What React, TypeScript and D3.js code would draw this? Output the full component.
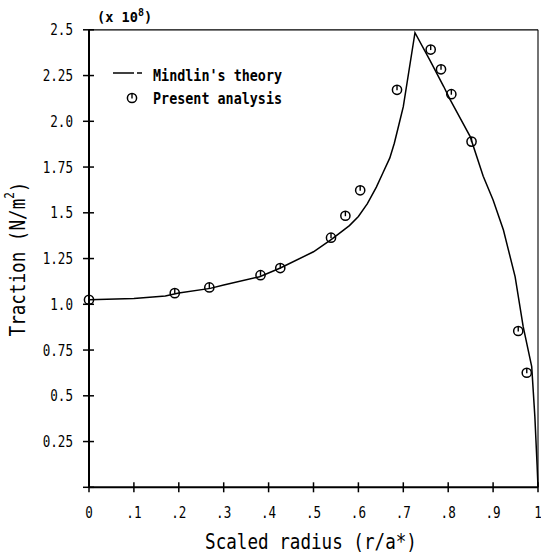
import React from "react";
import * as d3 from "d3";

// Mindlin's theory curve: scaled radius vs traction (x 10^8 N/m^2)
const theoryR = [0, 0.1, 0.17, 0.2, 0.27, 0.3, 0.38, 0.425, 0.5, 0.54, 0.58, 0.6, 0.62, 0.64, 0.655, 0.67, 0.68, 0.69, 0.7, 0.726, 0.76, 0.79, 0.804, 0.849, 0.878, 0.9, 0.923, 0.949, 0.967, 0.986, 0.993, 0.998, 1.0];
const theoryT = [1.025, 1.032, 1.045, 1.062, 1.087, 1.105, 1.151, 1.197, 1.287, 1.355, 1.43, 1.48, 1.55, 1.64, 1.72, 1.8, 1.88, 1.98, 2.08, 2.484, 2.33, 2.19, 2.12, 1.916, 1.7, 1.57, 1.406, 1.151, 0.878, 0.659, 0.386, 0.12, 0.0];

// Present analysis results
const analysisR = [0, 0.191, 0.268, 0.382, 0.426, 0.539, 0.571, 0.604, 0.686, 0.761, 0.784, 0.807, 0.852, 0.956, 0.975];
const analysisT = [1.025, 1.061, 1.092, 1.159, 1.198, 1.364, 1.484, 1.623, 2.172, 2.392, 2.284, 2.148, 1.889, 0.854, 0.626];

const yTicks = [0, 0.25, 0.5, 0.75, 1.0, 1.25, 1.5, 1.75, 2.0, 2.25, 2.5];
const yTickLabels = ["", "0.25", "0.5", "0.75", "1.0", "1.25", "1.5", "1.75", "2.0", "2.25", "2.5"];
const xTicks = [0, 0.1, 0.2, 0.3, 0.4, 0.5, 0.6, 0.7, 0.8, 0.9, 1.0];
const xTickLabels = ["0", ".1", ".2", ".3", ".4", ".5", ".6", ".7", ".8", ".9", "1"];

const FONT = "'DejaVu Sans Mono', monospace";

function Marker({ cx, cy }: { cx: number; cy: number }) {
  const r = 4.6;
  return (
    <g>
      <circle cx={cx} cy={cy} r={r} fill="none" stroke="#000" strokeWidth={1.5} />
      <line x1={cx} y1={cy - r} x2={cx} y2={cy + 0.5} stroke="#000" strokeWidth={1.4} />
    </g>
  );
}

export default function App() {
  const x = d3.scaleLinear().domain([0, 1]).range([89, 538]);
  const y = d3.scaleLinear().domain([0, 2.5]).range([487.3, 29.8]);

  const line = d3
    .line<number>()
    .x((_, i) => x(theoryR[i]))
    .y((d) => y(d))
    .curve(d3.curveLinear);

  const left = x(0);
  const right = x(1);
  const top = y(2.5);
  const bottom = y(0);

  return (
    <svg
      width={541}
      height={556}
      style={{ position: "absolute", left: 0, top: 0, background: "#fff" }}
      fontFamily={FONT}
    >
      <rect width={541} height={556} fill="#fff" />

      {/* frame */}
      <line x1={left} y1={top} x2={right} y2={top} stroke="#000" strokeWidth={1.3} />
      <line x1={right} y1={top} x2={right} y2={bottom} stroke="#000" strokeWidth={1.1} />
      <line x1={left} y1={top} x2={left} y2={bottom} stroke="#000" strokeWidth={2} />
      <line x1={left} y1={bottom} x2={right} y2={bottom} stroke="#000" strokeWidth={2} />

      {/* y ticks */}
      {yTicks.map((v, i) => (
        <g key={"yt" + i}>
          <line x1={left - 6} x2={left + 5} y1={y(v)} y2={y(v)} stroke="#000" strokeWidth={1.5} />
          {yTickLabels[i] && (
            <text
              transform={`translate(${left - 16},${y(v)}) scale(1,1.22)`}
              textAnchor="end"
              dominantBaseline="central"
              fontSize={12.6}
            >
              {yTickLabels[i]}
            </text>
          )}
        </g>
      ))}

      {/* x ticks */}
      {xTicks.map((v, i) => (
        <g key={"xt" + i}>
          <line x1={x(v)} x2={x(v)} y1={bottom - 5} y2={bottom + 5} stroke="#000" strokeWidth={1.5} />
          <text
            transform={`translate(${x(v)},${bottom + 25}) scale(1,1.2)`}
            textAnchor="middle"
            dominantBaseline="central"
            fontSize={12.6}
          >
            {xTickLabels[i]}
          </text>
        </g>
      ))}

      {/* axis titles */}
      <text
        transform={`translate(311,542) scale(1,1.22)`}
        textAnchor="middle"
        dominantBaseline="central"
        fontSize={17.6}
      >
        Scaled radius (r/a*)
      </text>
      <text
        transform={`translate(18,259) rotate(-90) scale(1,1.22)`}
        textAnchor="middle"
        dominantBaseline="central"
        fontSize={17.6}
      >
        Traction (N/m
        <tspan fontSize={11} dy={-7}>2</tspan>
        <tspan dy={7}>)</tspan>
      </text>

      {/* scale factor */}
      <text x={97} y={22} fontSize={13.6} fontWeight="bold">
        (x 10<tspan fontSize={10} dy={-6}>8</tspan>
        <tspan dy={6}>)</tspan>
      </text>

      {/* theory curve */}
      <path d={line(theoryT) ?? ""} fill="none" stroke="#000" strokeWidth={1.5} strokeLinejoin="miter" />

      {/* analysis markers */}
      {analysisR.map((r, i) => (
        <Marker key={"m" + i} cx={x(r)} cy={y(analysisT[i])} />
      ))}

      {/* legend */}
      <line x1={113} x2={134} y1={73} y2={73} stroke="#000" strokeWidth={1.5} />
      <line x1={137} x2={142} y1={73} y2={73} stroke="#000" strokeWidth={1.5} />
      <text transform="translate(153,80.5) scale(1,1.15)" fontSize={13.4} fontWeight="bold">
        Mindlin's theory
      </text>
      <Marker cx={132} cy={98} />
      <text transform="translate(153,104) scale(1,1.15)" fontSize={13.4} fontWeight="bold">
        Present analysis
      </text>
    </svg>
  );
}
